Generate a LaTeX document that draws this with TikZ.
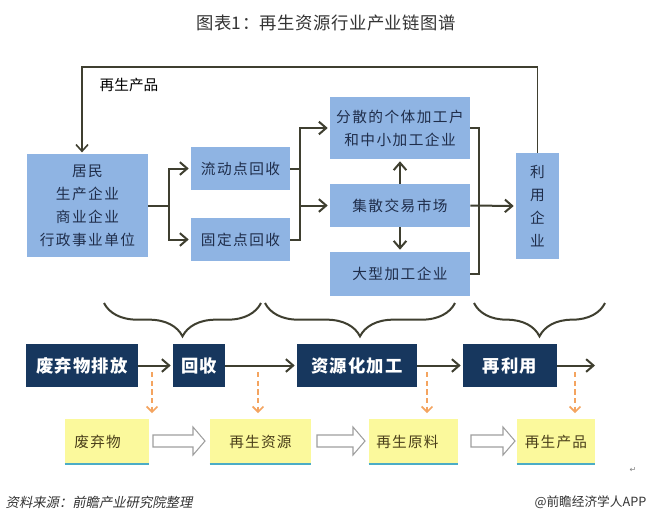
\documentclass[tikz,border=0pt]{standalone}
\usepackage{fontspec}
\usetikzlibrary{arrows.meta,decorations.pathreplacing,calc}
\newfontfamily\cjk{Noto Sans CJK SC}
\newfontfamily\cjkit{Noto Sans CJK SC}[FakeSlant=0.2]
\newfontfamily\dejavu{DejaVu Sans}
\definecolor{boxblue}{HTML}{8FB4E3}
\definecolor{navybox}{HTML}{17375E}
\definecolor{lineC}{HTML}{3F3F30}
\definecolor{yelfill}{HTML}{FBF99C}
\definecolor{edgeteal}{HTML}{4BACC6}
\definecolor{orng}{HTML}{F4A460}
\definecolor{txtblue}{HTML}{1F2D4A}
\definecolor{txtyel}{HTML}{4A3F1A}
\definecolor{titlegray}{HTML}{333333}
\newcommand\blockarr[3]{%
  \draw[gray!75, line width=0.8pt, fill=white, line join=miter]
    (#1,#3-6) -- (#2-12,#3-6) -- (#2-12,#3-14) -- (#2,#3) -- (#2-12,#3+14)
    -- (#2-12,#3+6) -- (#1,#3+6) -- cycle;}
\tikzset{
  sz/.style 2 args={minimum width=#1*0.75pt, minimum height=#2*0.75pt},
  bluebox/.style={fill=boxblue, inner sep=0pt, text=txtblue, align=center,
    font={\cjk\fontsize{11}{17.2}\selectfont\addfontfeature{LetterSpace=10}}},
  darkbox/.style={fill=navybox, inner sep=0pt, text=white,
    font={\cjk\bfseries\fontsize{13}{15}\selectfont\addfontfeature{LetterSpace=6}}},
  yelbox/.style={fill=yelfill, inner sep=0pt, text=txtyel,
    font={\cjk\fontsize{11}{13}\selectfont\addfontfeature{LetterSpace=8}}},
  conn/.style={lineC, line width=1.5pt},
  arr/.style={conn, shorten >=1.5pt, -{Straight Barb[length=5.5pt,width=9.5pt,line width=1.5pt]}},
  dasharr/.style={orng, line width=1.2pt, dash pattern=on 4pt off 2.5pt,
    -{Straight Barb[length=4pt,width=8pt,line width=1.2pt]}},
  bracestyle/.style={lineC, line width=1.5pt, decorate,
    decoration={brace, mirror, amplitude=25pt}},
}
\begin{document}
\begin{tikzpicture}[x=0.75pt, y=-0.75pt]
\useasboundingbox[fill=white] (0,0) rectangle (652,512);

% title
\node[font={\cjk\fontsize{13}{15}\selectfont\addfontfeature{LetterSpace=3}}, text=titlegray] (title) at (326,23) {图表1：再生资源行业产业链图谱};

% upper blue boxes
\node[bluebox, sz={121}{103}] (jm) at (87.5,205.5) {居民\\生产企业\\商业企业\\行政事业单位};
\node[bluebox, sz={99}{43}] (ld) at (240.5,168.5) {流动点回收};
\node[bluebox, sz={99}{43}] (gd) at (240.5,239.5) {固定点回收};
\node[bluebox, sz={140}{62}] (fs) at (400,128) {分散的个体加工户\\和中小加工企业};
\node[bluebox, sz={140}{43}] (js) at (400,205.5) {集散交易市场};
\node[bluebox, sz={140}{44}] (dx) at (400,274) {大型加工企业};
\node[bluebox, sz={43}{106}] (ly) at (537.5,206) {利\\用\\企\\业};

% connectors upper part
\draw[arr] (jm.east) -- ++(21,0) |- (ld.west);
\draw[arr] (jm.east) -- ++(21,0) |- (gd.west);
\coordinate (m) at (300,205.5);
\draw[conn] (ld.east) -| (m);
\draw[conn] (gd.east) -| (m);
\draw[arr] (m) -- (js.west);
\draw[arr] (m) |- (fs.west);
\draw[arr] (js.north) -- (fs.south);
\draw[arr] (js.south) -- (dx.north);
\coordinate (n) at (479,205.5);
\draw[conn] (fs.east) -| (n);
\draw[conn] (dx.east) -| (n);
\draw[arr] (js.east) -- (ly.west);

% feedback loop
\coordinate (t1) at (537.5,67);
\coordinate (t2) at (82,67);
\draw[lineC, line width=1.2pt, shorten >=1pt, -{Straight Barb[length=5pt,width=9pt,line width=1.2pt]}]
  (ly.north) -- (t1) -- (t2) -- (t2 |- jm.north);
\node[font={\cjk\fontsize{11}{13}\selectfont}, text=black] (lbl) at (129,85) {再生产品};

% braces
\draw[bracestyle] (104,303) -- (261,303);
\draw[bracestyle] (265,303) -- (455,303);
\draw[bracestyle] (474,303) -- (605,303);

% dark process boxes
\node[darkbox, sz={112}{43}] (p1) at (82,365.5) {废弃物排放};
\node[darkbox, sz={52}{43}] (p2) at (199,365.5) {回收};
\node[darkbox, sz={120}{43}] (p3) at (357,365.5) {资源化加工};
\node[darkbox, sz={94}{43}] (p4) at (510,365.5) {再利用};
\coordinate (pend) at (597,365.5);
\draw[arr] (p1) -- (p2);
\draw[arr] (p2) -- (p3);
\draw[arr] (p3) -- (p4);
\draw[arr] (p4) -- (pend);

% orange dashed arrows
\foreach \xx/\nm in {152/o1,258/o2,427/o3,575/o4}{
  \coordinate (\nm a) at (\xx,372);
  \coordinate (\nm b) at (\xx,413);
  \draw[dasharr] (\nm a) -- (\nm b);
}

% yellow boxes
\node[yelbox, sz={84}{45}] (y1) at (107,441.5) {\hspace*{-14pt}废弃物};
\node[yelbox, sz={101}{45}] (y2) at (260.5,441.5) {再生资源};
\node[yelbox, sz={89}{45}] (y3) at (413.5,441.5) {\hspace*{-9pt}再生原料};
\node[yelbox, sz={78}{45}] (y4) at (556,441.5) {再生产品};
\foreach \b in {y1,y2,y3,y4}{
  \draw[edgeteal, line width=1.5pt] (\b.south west) -- (\b.south east);
}

% hollow block arrows
\blockarr{153}{205}{441}
\blockarr{317}{365}{441}
\blockarr{471}{515}{441}

% paragraph mark
\node[font={\dejavu\fontsize{6}{7}\selectfont}, text=gray] (pm) at (633,470) {↵};

% footer
\node[anchor=west, font={\cjkit\fontsize{10}{12}\selectfont}, text=titlegray] (src) at (1,502) {资料来源：前瞻产业研究院整理};
\node[anchor=east, font={\cjk\fontsize{9.5}{12}\selectfont}, text=titlegray] (app) at (651,502) {@前瞻经济学人APP};
\end{tikzpicture}
\end{document}
